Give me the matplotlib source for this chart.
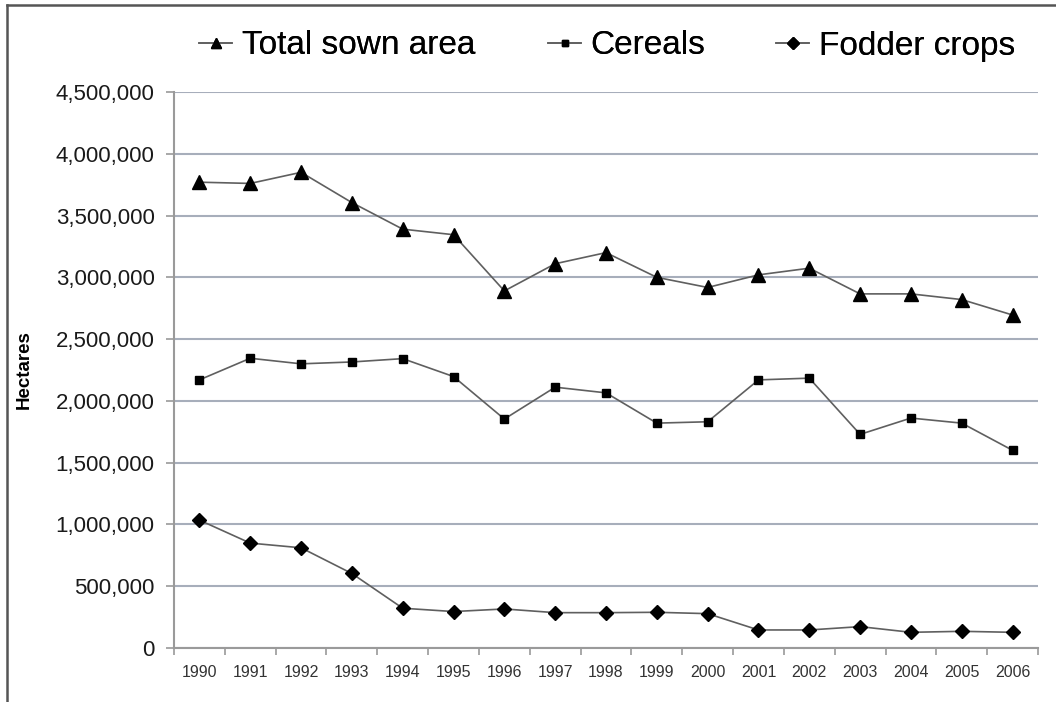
import numpy as np
import matplotlib
matplotlib.use("Agg")
import matplotlib.pyplot as plt
from matplotlib.lines import Line2D
from matplotlib.ticker import FuncFormatter, MultipleLocator

plt.rcParams['font.family'] = ['Liberation Sans', 'DejaVu Sans']

years = [1990, 1991, 1992, 1993, 1994, 1995, 1996, 1997, 1998,
         1999, 2000, 2001, 2002, 2003, 2004, 2005, 2006]
total_sown = [3770000, 3760000, 3850000, 3605000, 3390000, 3345000, 2890000,
              3110000, 3200000, 3000000, 2918000, 3020000, 3074000, 2866000,
              2866000, 2820000, 2695000]
cereals = [2170000, 2345000, 2300000, 2315000, 2342000, 2197000, 1853000,
           2111000, 2065000, 1820000, 1831000, 2170000, 2184000, 1729000,
           1861000, 1820000, 1600000]
fodder = [1035000, 849000, 811000, 603000, 322000, 295000, 316000, 286000,
          286000, 289000, 278000, 146000, 146000, 173000, 127000, 135000,
          127000]

linecol = '#5f5f5f'
gridcol = '#a7aebb'

fig = plt.figure(figsize=(10.56, 7.02), dpi=100)
ax = fig.add_axes([174/1056, 1-648/702, 864/1056, 556/702])

x = np.arange(len(years))
l1, = ax.plot(x, total_sown, color=linecol, lw=1.2, marker='^', ms=10,
              mfc='black', mec='black', zorder=3)
l2, = ax.plot(x, cereals, color=linecol, lw=1.2, marker='s', ms=5.5,
              mfc='black', mec='black', zorder=3)
l3, = ax.plot(x, fodder, color=linecol, lw=1.2, marker='D', ms=7.5,
              mfc='black', mec='black', zorder=3)

ax.set_xlim(-0.5, len(years) - 0.5)
ax.set_ylim(0, 4500000)
ax.yaxis.set_major_locator(MultipleLocator(500000))
ax.yaxis.set_major_formatter(FuncFormatter(lambda v, p: f'{int(v):,}'))
ax.grid(axis='y', color=gridcol, lw=1.5)
ax.set_axisbelow(True)

ax.set_xticks(x)
ax.set_xticklabels([str(y) for y in years])
ax.set_xticks(np.arange(len(years) + 1) - 0.5, minor=True)
ax.tick_params(axis='x', which='major', length=0, pad=12, labelsize=11.5,
               labelcolor='#333333')
ax.tick_params(axis='x', which='minor', length=5, width=1.2, color='#9a9a9a')
ax.tick_params(axis='y', length=6, width=1.2, color='#9a9a9a', pad=8,
               labelsize=16, labelcolor='#1a1a1a')

for s in ['top', 'right']:
    ax.spines[s].set_visible(False)
for s in ['left', 'bottom']:
    ax.spines[s].set_color('#9a9a9a')
    ax.spines[s].set_linewidth(1.5)

ax.set_ylabel('Hectares', fontsize=13.5, fontweight='bold')
ax.yaxis.set_label_coords(-0.163, 0.5)

# legend entries along the top, one legend per series
entries = [(l1, 'Total sown area', 199), (l2, 'Cereals', 548),
           (l3, 'Fodder crops', 776)]
for handle, label, xpix in entries:
    leg = fig.legend([handle], [label], loc='center left',
                     bbox_to_anchor=(xpix/1056, 1-46/702), frameon=False,
                     fontsize=24, handlelength=1.0, handletextpad=0.28,
                     borderpad=0, borderaxespad=0, markerscale=0.75)
    fig.add_artist(leg)

# outer border (top and left edges)
fig.add_artist(Line2D([7/1056, 7/1056], [0, 1-5/702], transform=fig.transFigure,
                      color='#555555', lw=1.8))
fig.add_artist(Line2D([7/1056, 1], [1-5/702, 1-5/702], transform=fig.transFigure,
                      color='#555555', lw=1.8))

fig.savefig('out.png', dpi=100)
